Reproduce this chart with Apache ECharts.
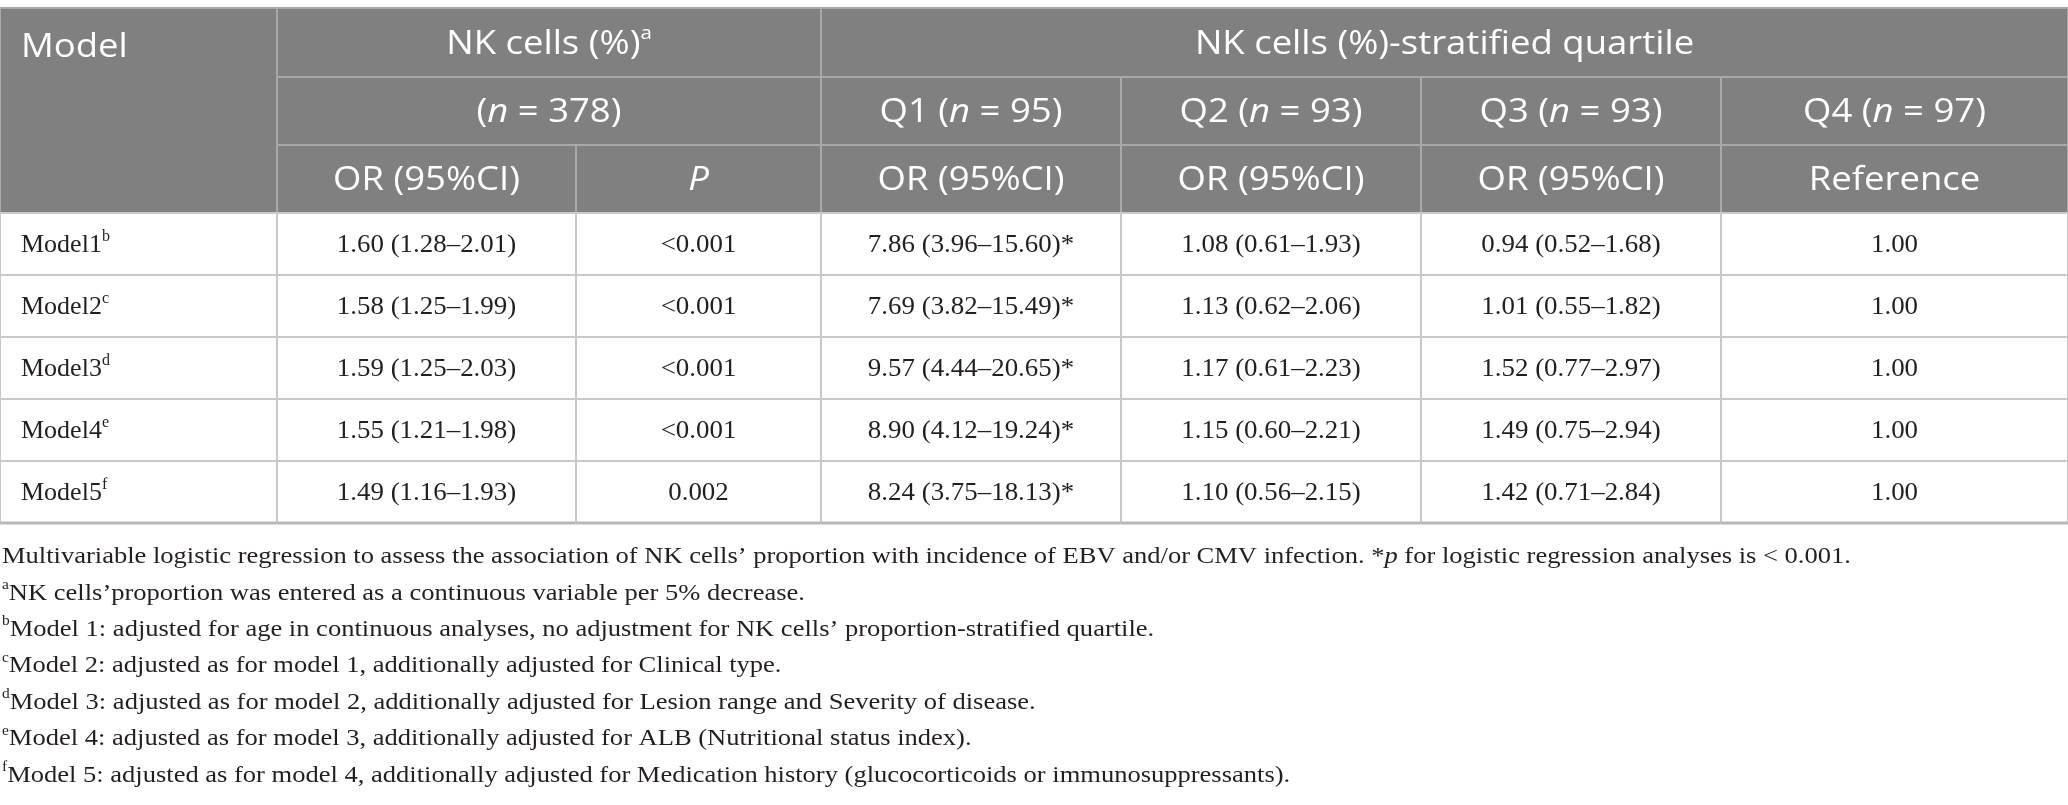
<!DOCTYPE html>
<html>
<head>
<meta charset="utf-8">
<script src="https://cdn.jsdelivr.net/npm/echarts@6.0.0/dist/echarts.min.js"></script>
<style>
  html, body { margin: 0; padding: 0; background: #fff; }
  #main { width: 2068px; height: 805px; }
</style>
</head>
<body>
<div id="main"></div>
<script>
// ---- table values ----
const modelNames = ["Model1", "Model2", "Model3", "Model4", "Model5"];
const modelNotes = ["b", "c", "d", "e", "f"];
const nkOR = ["1.60 (1.28–2.01)", "1.58 (1.25–1.99)", "1.59 (1.25–2.03)", "1.55 (1.21–1.98)", "1.49 (1.16–1.93)"];
const nkP = ["<0.001", "<0.001", "<0.001", "<0.001", "0.002"];
const q1OR = ["7.86 (3.96–15.60)*", "7.69 (3.82–15.49)*", "9.57 (4.44–20.65)*", "8.90 (4.12–19.24)*", "8.24 (3.75–18.13)*"];
const q2OR = ["1.08 (0.61–1.93)", "1.13 (0.62–2.06)", "1.17 (0.61–2.23)", "1.15 (0.60–2.21)", "1.10 (0.56–2.15)"];
const q3OR = ["0.94 (0.52–1.68)", "1.01 (0.55–1.82)", "1.52 (0.77–2.97)", "1.49 (0.75–2.94)", "1.42 (0.71–2.84)"];
const q4OR = ["1.00", "1.00", "1.00", "1.00", "1.00"];
const quartiles = ["Q1", "Q2", "Q3", "Q4"];
const quartileN = [95, 93, 93, 97];
const totalN = 378;
const noteMarks = ["", "a", "b", "c", "d", "e", "f"];
const noteTexts = [
  "Multivariable logistic regression to assess the association of NK cells’ proportion with incidence of EBV and/or CMV infection. *{i|p} for logistic regression analyses is < 0.001.",
  "NK cells’proportion was entered as a continuous variable per 5% decrease.",
  "Model 1: adjusted for age in continuous analyses, no adjustment for NK cells’ proportion-stratified quartile.",
  "Model 2: adjusted as for model 1, additionally adjusted for Clinical type.",
  "Model 3: adjusted as for model 2, additionally adjusted for Lesion range and Severity of disease.",
  "Model 4: adjusted as for model 3, additionally adjusted for ALB (Nutritional status index).",
  "Model 5: adjusted as for model 4, additionally adjusted for Medication history (glucocorticoids or immunosuppressants)."
];

// ---- layout (pixel units of the page) ----
const colEdges = [0, 277, 576, 821, 1121, 1421, 1721, 2068];
const rowEdges = [8, 77, 145, 213, 275, 337, 399, 461, 523];
const noteTop = 557, noteStep = 36.4;

const headFont = "Open Sans";
const bodyFont = "Liberation Serif";
const ink = "#231f20";

// build the cell list
const cells = [];
function addCell(c0, c1, r0, r1, kind, text, align, textRow) {
  cells.push({ c0, c1, r0, r1, kind, text, align: align || "center", textRow });
}
addCell(0, 1, 0, 3, "head", "Model", "left", 0);
addCell(1, 3, 0, 1, "head", "NK cells (%){s|a}");
addCell(3, 7, 0, 1, "head", "NK cells (%)-stratified quartile");
addCell(1, 3, 1, 2, "head", "({i|n} = " + totalN + ")");
quartiles.forEach((q, k) => addCell(3 + k, 4 + k, 1, 2, "head", q + " ({i|n} = " + quartileN[k] + ")"));
["OR (95%CI)", "{i|P}", "OR (95%CI)", "OR (95%CI)", "OR (95%CI)", "Reference"].forEach((t, k) =>
  addCell(1 + k, 2 + k, 2, 3, "head", t));
modelNames.forEach((m, r) => {
  const row = 3 + r;
  addCell(0, 1, row, row + 1, "body", m + "{s|" + modelNotes[r] + "}", "left");
  [nkOR, nkP, q1OR, q2OR, q3OR, q4OR].forEach((col, k) =>
    addCell(1 + k, 2 + k, row, row + 1, "body", col[r]));
});

const headRich = {
  i: { fontFamily: headFont, fontSize: 32, fontStyle: "italic", color: "#fff", lineHeight: 40 },
  s: { fontFamily: headFont, fontSize: 18, color: "#fff", lineHeight: 40, verticalAlign: "top" }
};
const bodyRich = {
  s: { fontFamily: bodyFont, fontSize: 16, color: ink, lineHeight: 32, verticalAlign: "top" }
};

function renderCell(params, api) {
  const c = cells[params.dataIndex];
  const p0 = api.coord([api.value(0), api.value(2)]);
  const p1 = api.coord([api.value(1), api.value(3)]);
  const head = c.kind === "head";
  const children = [{
    type: "rect",
    shape: { x: p0[0], y: p0[1], width: p1[0] - p0[0], height: p1[1] - p0[1] },
    style: { fill: head ? "#808080" : "#fff", stroke: head ? "#a9a9a9" : "#c9c9c9", lineWidth: 2 }
  }];
  let ty = (p0[1] + p1[1]) / 2;
  if (c.textRow != null) {
    ty = (api.coord([0, rowEdges[c.textRow]])[1] + api.coord([0, rowEdges[c.textRow + 1]])[1]) / 2 + 3;
  }
  const left = c.align === "left";
  children.push({
    type: "text",
    x: left ? p0[0] + 21 : (p0[0] + p1[0]) / 2,
    y: ty + (head ? 2 : 1),
    scaleX: head ? 1.14 : (left ? 1 : 1.035),
    style: {
      text: c.text,
      align: left ? "left" : "center",
      verticalAlign: "middle",
      fill: head ? "#fff" : ink,
      fontFamily: head ? headFont : bodyFont,
      fontSize: head ? 32 : 26,
      lineHeight: head ? 40 : 32,
      rich: head ? headRich : bodyRich
    }
  });
  if (!head && c.r1 === rowEdges.length - 1) {
    children.push({
      type: "line",
      shape: { x1: p0[0], y1: p1[1], x2: p1[0], y2: p1[1] },
      style: { stroke: "#b8b8b8", lineWidth: 3 }
    });
  }
  return { type: "group", children };
}

const noteGraphics = noteTexts.map((t, k) => ({
  type: "text",
  x: 2,
  y: noteTop + k * noteStep,
  scaleX: 1.105,
  style: {
    text: (noteMarks[k] ? "{s|" + noteMarks[k] + "}" : "") + t,
    fill: ink,
    fontFamily: bodyFont,
    fontSize: 24,
    lineHeight: 30,
    verticalAlign: "middle",
    rich: {
      s: { fontFamily: bodyFont, fontSize: 14, fill: ink, lineHeight: 30, verticalAlign: "top" },
      i: { fontFamily: bodyFont, fontSize: 24, fontStyle: "italic", fill: ink, lineHeight: 30 }
    }
  }
}));

const chart = echarts.init(document.getElementById("main"), null, { renderer: "canvas" });
chart.setOption({
  animation: false,
  backgroundColor: "#fff",
  grid: { left: 0, right: 0, top: 0, bottom: 0 },
  xAxis: { type: "value", min: 0, max: 2068, show: false },
  yAxis: { type: "value", min: 0, max: 805, inverse: true, show: false },
  graphic: noteGraphics,
  series: [{
    type: "custom",
    renderItem: renderCell,
    clip: false,
    data: cells.map(c => [colEdges[c.c0], colEdges[c.c1], rowEdges[c.r0], rowEdges[c.r1]])
  }]
});
</script>
</body>
</html>
